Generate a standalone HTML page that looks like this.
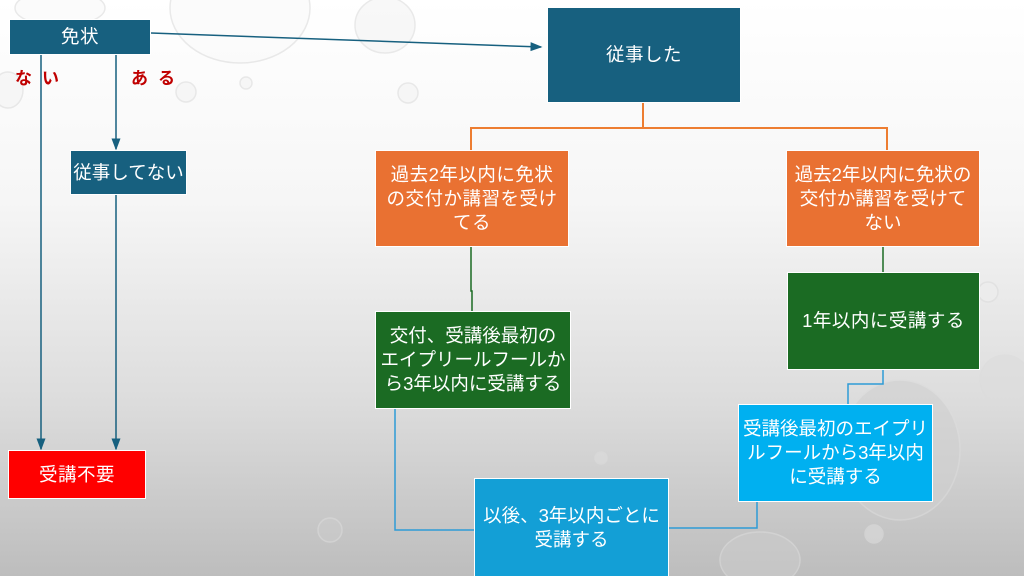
<!DOCTYPE html>
<html><head><meta charset="utf-8"><style>
body{margin:0}
#c{position:relative;width:1024px;height:576px;overflow:hidden;background:linear-gradient(180deg,#ffffff 0%,#f6f6f6 35%,#dcdcdc 70%,#bdbdbd 100%);font-family:"Liberation Sans","Noto Sans CJK JP",sans-serif}
.b{position:absolute;box-sizing:border-box;display:flex;align-items:center;justify-content:center;text-align:center;color:#fff;font-size:18.5px;line-height:24px;border:1px solid #fff;white-space:nowrap;letter-spacing:0.5px}
.dk{background:#17607f}.or{background:#e97132}.gr{background:#1b6b23}.lb{background:#00b0f0}.mb{background:#139fd6}.rd{background:#ff0000}
.t{position:absolute;color:#c00000;font-size:17px;font-weight:bold;letter-spacing:10px}
svg{position:absolute;left:0;top:0}
</style></head><body><div id="c">
<svg width="1024" height="576">
<g fill="none" stroke="#dcdcdc" stroke-width="1.5" opacity="0.6">
<ellipse cx="240" cy="8" rx="70" ry="55" fill="#fafafa"/>
<ellipse cx="60" cy="8" rx="45" ry="18" fill="#fafafa"/>
<ellipse cx="385" cy="25" rx="30" ry="28" fill="#f4f4f4"/>
<ellipse cx="8" cy="90" rx="15" ry="18" fill="#f4f4f4"/>
<circle cx="186" cy="92" r="10" fill="#f4f4f4"/>
<circle cx="246" cy="83" r="6" fill="#f4f4f4"/>
<circle cx="408" cy="93" r="10" fill="#f4f4f4"/>
<circle cx="1005" cy="380" r="25" fill="#ddd"/>
<circle cx="988" cy="292" r="10" fill="#eee"/>
<circle cx="601" cy="458" r="6" fill="#ddd"/>
<circle cx="874" cy="534" r="9" fill="#ddd"/>
<ellipse cx="760" cy="560" rx="40" ry="28" fill="#ccc"/>
<ellipse cx="900" cy="450" rx="60" ry="70" fill="#d0d0d0"/>
<circle cx="330" cy="530" r="12" fill="#ccc"/>
</g>
<defs><marker id="a" markerWidth="8" markerHeight="8" refX="7" refY="4" orient="auto"><path d="M0,1 L8,4 L0,7z" fill="#17607f"/></marker></defs>
<g stroke="#17607f" stroke-width="1.5" fill="none">
<line x1="151" y1="33" x2="541" y2="47" marker-end="url(#a)"/>
<line x1="41" y1="55" x2="41" y2="449" marker-end="url(#a)"/>
<line x1="116" y1="55" x2="116" y2="149" marker-end="url(#a)"/>
<line x1="116" y1="194" x2="116" y2="449" marker-end="url(#a)"/>
</g>
<g stroke="#ed7d31" stroke-width="2" fill="none">
<polyline points="643,103 643,128 471,128 471,150"/>
<polyline points="643,128 887,128 887,150"/>
</g>
<g stroke="#1b6b23" stroke-width="1.5" fill="none">
<polyline points="471,246 471,291 472,291 472,311"/>
<line x1="883" y1="246" x2="883" y2="272"/>
</g>
<g stroke="#2e9bd6" stroke-width="1.5" fill="none">
<polyline points="883,369 883,384 848,384 848,404"/>
<polyline points="395,408 395,530 474,530"/>
<polyline points="757,501 757,528 668,528"/>
</g>
</svg>
<div class="b dk" style="left:9px;top:19px;width:142px;height:36px">免状</div>
<div class="t" style="left:15px;top:64px">ない</div>
<div class="t" style="left:131px;top:64px">ある</div>
<div class="b dk" style="left:70px;top:150px;width:117px;height:45px;letter-spacing:0">従事してない</div>
<div class="b rd" style="left:8px;top:450px;width:138px;height:49px">受講不要</div>
<div class="b dk" style="left:547px;top:7px;width:194px;height:96px">従事した</div>
<div class="b or" style="left:375px;top:150px;width:194px;height:97px">過去2年以内に免状<br>の交付か講習を受け<br>てる</div>
<div class="b or" style="left:786px;top:150px;width:194px;height:97px;letter-spacing:0">過去2年以内に免状の<br>交付か講習を受けて<br>ない</div>
<div class="b gr" style="left:375px;top:311px;width:196px;height:98px;letter-spacing:0">交付、受講後最初の<br>エイプリールフールか<br>ら3年以内に受講する</div>
<div class="b gr" style="left:787px;top:272px;width:193px;height:98px">1年以内に受講する</div>
<div class="b lb" style="left:738px;top:404px;width:195px;height:98px;letter-spacing:0">受講後最初のエイプリ<br>ルフールから3年以内<br>に受講する</div>
<div class="b mb" style="left:474px;top:478px;width:195px;height:100px;letter-spacing:0">以後、3年以内ごとに<br>受講する</div>
</div></body></html>
